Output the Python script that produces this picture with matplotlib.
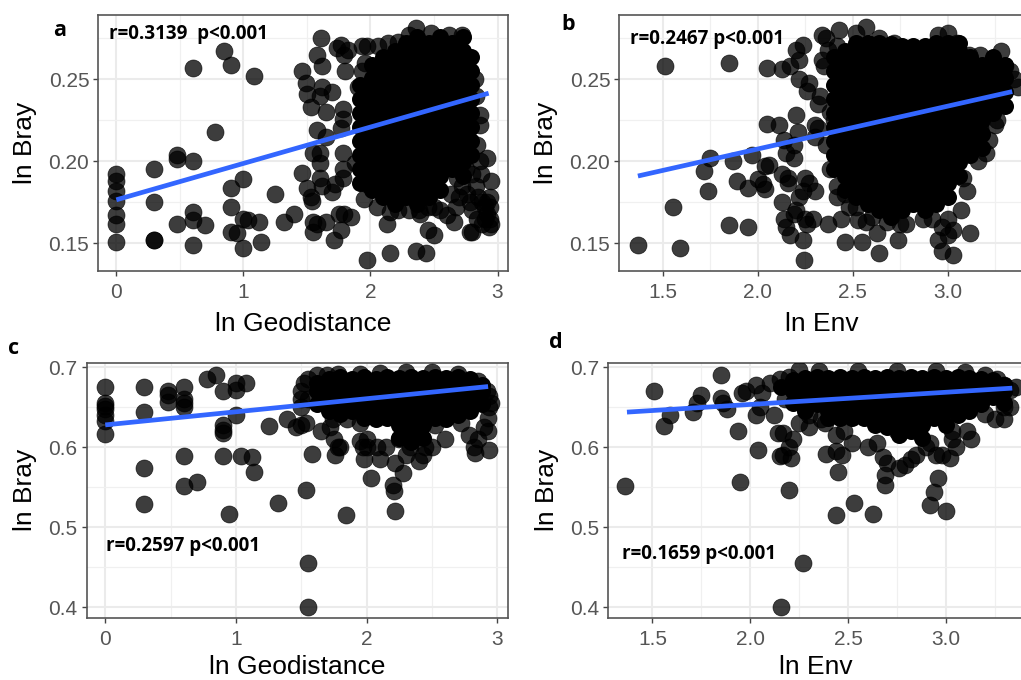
import matplotlib
matplotlib.use("Agg")
import matplotlib.pyplot as plt

# scattered points, drawn see-through
a_points = [(0, .192), (0, .188), (0, .182), (0, .176), (0, .167), (0, .162), (0, .151),
            (.30, .195), (.30, .175), (.30, .152), (.30, .152), (.48, .204), (.48, .2015), (.48, .162),
            (.60, .2), (.6, .257), (.6, .169), (.6, .164), (.6, .149), (.70, .161), (.78, .218),
            (.85, .267), (.90, .259), (.90, .184), (.90, .172), (.90, .157), (.95, .156), (1, .189),
            (1, .165), (1, .147), (1.04, .164), (1.08, .252), (1.12, .163), (1.14, .151), (1.25, .18),
            (1.32, .163), (1.40, .168), (1.46, .193), (1.46, .255), (1.49, .248), (1.5, .184), (1.5, .241),
            (1.53, .233), (1.53, .178), (1.54, .176), (1.55, .205), (1.55, .163), (1.55, .157), (1.58, .265),
            (1.58, .219), (1.58, .162), (1.6, .205), (1.61, .275), (1.6, .199), (1.6, .24), (1.6, .19),
            (1.62, .185), (1.62, .258), (1.62, .245), (1.65, .23), (1.65, .215), (1.65, .163), (1.7, .181),
            (1.7, .242), (1.71, .152), (1.72, .186), (1.74, .269), (1.75, .168), (1.77, .22), (1.77, .271),
            (1.77, .158), (1.78, .205), (1.78, .195), (1.78, .19), (1.78, .232), (1.78, .226), (1.79, .265),
            (1.79, .168), (1.8, .255), (1.82, .268), (1.85, .166), (1.88, .199), (1.9, .245), (1.93, .27),
            (1.93, .255), (1.97, .14), (2.15, .144), (2.36, .145), (2.44, .144), (2.45, .158), (2.5, .155),
            (2.39, .168), (2.13, .162), (2.8, .157), (2.82, .25), (2.83, .24), (2.86, .228), (2.86, .222),
            (2.84, .21), (2.86, .2), (2.92, .202), (2.87, .192), (2.95, .188), (2.85, .178), (2.76, .18),
            (2.78, .175), (2.8, .17), (2.88, .175), (2.92, .175), (2.94, .178), (2.94, .172), (2.92, .168),
            (2.9, .165), (2.94, .165), (2.93, .16), (2.88, .162), (2.95, .162), (2.78, .157), (2.66, .163),
            (2.6, .167), (2.55, .17), (2.5, .172), (2.45, .172), (2.38, .17), (2.3, .17), (2.22, .17),
            (2.15, .169), (2.05, .172), (1.95, .177), (1.97, .186), (1.96, .26), (1.97, .27),
            (2.06, .27), (2.14, .272), (2.22, .273), (2.3, .277), (2.36, .2815), (2.48, .278), (2.62, .277),
            (2.72, .277), (2.68, .19), (2.72, .185), (2.75, .195), (2.63, .18), (2.67, .172), (2.7, .178),
            (2.83, .185), (2.8, .192), (2.84, .165), (2.9, .172)]
b_points = [(1.37, .149), (1.51, .258), (1.555, .172), (1.59, .147), (1.72, .194), (1.74, .182), (1.75, .202),
            (1.85, .161), (1.85, .26), (1.87, .2), (1.89, .188), (1.95, .16), (1.95, .184), (1.97, .204),
            (2.0, .189), (2.03, .186), (2.04, .183), (2.04, .197), (2.06, .198), (2.05, .223), (2.05, .257),
            (2.13, .256), (2.11, .222), (2.17, .258), (2.14, .213), (2.13, .192), (2.16, .19), (2.16, .187),
            (2.15, .205), (2.13, .175), (2.19, .21), (2.19, .202), (2.2, .228), (2.21, .218), (2.2, .268),
            (2.22, .262), (2.22, .25), (2.24, .271), (2.25, .19), (2.27, .187), (2.24, .152), (2.245, .14),
            (2.27, .248), (2.26, .243), (2.3, .182), (2.14, .165), (2.15, .16), (2.17, .155), (2.19, .168),
            (2.2, .17), (2.22, .178), (2.24, .182), (2.25, .165), (2.26, .162), (2.29, .165), (2.37, .162),
            (2.42, .178), (2.44, .165), (2.46, .151), (2.48, .172), (2.53, .164), (2.55, .151), (2.57, .163),
            (2.63, .156), (2.64, .144), (2.74, .152), (2.75, .162), (2.78, .162), (2.87, .165), (2.92, .165),
            (2.95, .152), (2.97, .145), (3.03, .143), (3.0, .155), (3.03, .158), (3.12, .156), (3.07, .17),
            (3.1, .182), (3.0, .165), (2.97, .16), (2.3, .222), (2.32, .22), (2.32, .235), (2.33, .24),
            (2.38, .23), (2.4, .225), (2.3, .215), (2.35, .258), (2.42, .27), (2.36, .275), (2.34, .277),
            (2.43, .28), (2.57, .282), (2.52, .278), (2.64, .275), (2.72, .272), (2.95, .277), (3.0, .278),
            (3.05, .272), (3.11, .265), (3.17, .265), (3.28, .267), (3.3, .258), (3.33, .255), (3.35, .25),
            (3.37, .245), (3.29, .255), (3.24, .25), (3.25, .222), (3.26, .225), (3.22, .213), (3.2, .205),
            (3.16, .2), (3.22, .232), (3.27, .24), (3.17, .22), (2.36, .21), (2.38, .195), (2.42, .185),
            (2.46, .18), (2.52, .172), (2.6, .166), (2.68, .163), (3.08, .19), (2.34, .262), (2.37, .268)]
c_points = [(0, .676), (0, .655), (0, .652), (0, .648), (0, .64), (0, .633), (0, .617), (.3, .675), (.3, .644),
            (.3, .574), (.3, .529), (.48, .67), (.48, .665), (.48, .657), (.6, .675), (.6, .661), (.6, .655),
            (.6, .651), (.6, .589), (.6, .551), (.7, .556), (.78, .685), (.85, .69), (.9, .671), (.9, .628),
            (.9, .622), (.9, .618), (.9, .589), (.95, .517), (1, .68), (1, .672), (1, .64), (1.04, .589),
            (1.08, .681), (1.12, .588), (1.14, .569), (1.25, .627), (1.32, .53), (1.39, .636), (1.46, .625),
            (1.5, .628), (1.54, .63), (1.54, .546), (1.55, .455), (1.55, .4), (1.58, .591), (1.84, .515),
            (2.03, .561), (2.2, .553), (2.21, .545), (2.22, .52), (2.28, .568), (2.22, .58), (2.1, .585),
            (1.98, .585), (2.0, .6), (2.94, .664), (2.95, .655), (2.94, .65), (2.93, .637), (2.93, .62),
            (2.9, .625), (2.94, .597), (2.85, .61), (2.83, .593), (2.82, .6), (2.78, .615), (2.72, .63),
            (2.6, .61), (2.52, .628), (2.5, .6), (2.45, .6), (2.43, .59), (2.4, .583), (2.33, .6), (2.3, .59),
            (2.25, .61), (2.15, .6), (2.08, .6), (1.95, .608), (1.97, .6), (2.0, .61), (1.95, .63), (1.85, .635),
            (1.75, .61), (1.72, .625), (1.74, .635), (1.65, .62), (1.78, .6), (1.76, .59), (1.8, .6), (1.55, .66),
            (1.5, .66), (1.5, .65), (1.52, .68), (1.5, .67), (1.55, .685), (1.62, .69), (1.7, .69), (1.78, .692),
            (1.95, .692), (2.1, .693), (2.3, .694), (2.5, .694), (2.7, .692), (2.85, .683), (2.92, .67)]
d_points = [(1.36, .551), (1.51, .671), (1.56, .627), (1.59, .64), (1.71, .644), (1.73, .656), (1.75, .666),
            (1.85, .69), (1.85, .662), (1.86, .656), (1.88, .648), (1.94, .62), (1.95, .556), (1.96, .668),
            (1.98, .671), (2.03, .64), (2.04, .597), (2.05, .65), (2.03, .678), (2.06, .668), (2.12, .64),
            (2.15, .589), (2.17, .59), (2.14, .618), (2.17, .618), (2.2, .546), (2.21, .587), (2.2, .6),
            (2.22, .61), (2.16, .4), (2.27, .455), (2.25, .63), (2.3, .625), (2.38, .63), (2.39, .591),
            (2.45, .569), (2.44, .515), (2.44, .595), (2.47, .59), (2.44, .615), (2.48, .62), (2.53, .53),
            (2.52, .605), (2.6, .6), (2.63, .517), (2.65, .605), (2.68, .588), (2.7, .58), (2.69, .565),
            (2.69, .553), (2.76, .574), (2.79, .578), (2.82, .585), (2.85, .59), (2.92, .605), (2.95, .59),
            (2.94, .544), (2.92, .528), (2.96, .561), (3.0, .52), (2.98, .59), (3.02, .587), (3.05, .6),
            (3.03, .61), (3.03, .62), (3.11, .62), (3.13, .61), (2.75, .62), (2.9, .6), (3.3, .635),
            (3.25, .635), (3.2, .642), (3.3, .65), (3.33, .65), (3.33, .672), (3.3, .678), (3.36, .675),
            (3.2, .69), (3.26, .685), (2.1, .68), (2.15, .685), (2.2, .688), (2.25, .697), (2.18, .66),
            (2.35, .695), (2.55, .695), (2.75, .695), (2.95, .696), (3.1, .694), (2.3, .64), (2.36, .635)]

# dense middle of each cloud: x of a column, then the y values in that column
a_core_x = [1.92, 2.01, 2.10, 2.19, 2.28, 2.37, 2.46, 2.55, 2.64, 2.73, 2.79]
a_core_y = [[.2465, .238, .2295, .221, .2125, .204, .1955, .187],
            [.259, .2505, .242, .2335, .225, .2165, .208, .1995, .191, .1825],
            [.2635, .255, .2465, .238, .2295, .221, .2125, .204, .1955, .187, .1785],
            [.2675, .259, .2505, .242, .2335, .225, .2165, .208, .1995, .191, .1825, .174],
            [.272, .2635, .255, .2465, .238, .2295, .221, .2125, .204, .1955, .187, .1785],
            [.276, .2675, .259, .2505, .242, .2335, .225, .2165, .208, .1995, .191, .1825, .174],
            [.272, .2635, .255, .2465, .238, .2295, .221, .2125, .204, .1955, .187, .1785],
            [.276, .2675, .259, .2505, .242, .2335, .225, .2165, .208, .1995, .191, .1825],
            [.272, .2635, .255, .2465, .238, .2295, .221, .2125, .204, .1955],
            [.276, .2675, .259, .2505, .242, .2335, .225, .2165, .208, .1995, .191],
            [.2635, .255, .2465, .238, .2295, .221, .2125, .204]]
b_core_x = [2.40, 2.46, 2.52, 2.58, 2.64, 2.70, 2.76, 2.82, 2.88, 2.94, 3.00, 3.06, 3.12, 3.18, 3.24, 3.30]
b_core_y = [[.2635, .255, .2465, .238, .2295, .221, .2125, .204, .1955],
            [.2675, .259, .2505, .242, .2335, .225, .2165, .208, .1995, .191, .1825],
            [.272, .2635, .255, .2465, .238, .2295, .221, .2125, .204, .1955, .187, .1785],
            [.272, .2675, .259, .2505, .242, .2335, .225, .2165, .208, .1995, .191, .1825, .174],
            [.272, .2635, .255, .2465, .238, .2295, .221, .2125, .204, .1955, .187, .1785, .17],
            [.2715, .2675, .259, .2505, .242, .2335, .225, .2165, .208, .1995, .191, .1825, .174, .166],
            [.2705, .2635, .255, .2465, .238, .2295, .221, .2125, .204, .1955, .187, .1785, .17],
            [.2705, .2675, .259, .2505, .242, .2335, .225, .2165, .208, .1995, .191, .1825, .174],
            [.2705, .2635, .255, .2465, .238, .2295, .221, .2125, .204, .1955, .187, .1785, .17],
            [.272, .2675, .259, .2505, .242, .2335, .225, .2165, .208, .1995, .191, .1825, .174],
            [.272, .2635, .255, .2465, .238, .2295, .221, .2125, .204, .1955, .187, .1785],
            [.272, .2675, .259, .2505, .242, .2335, .225, .2165, .208, .1995, .191],
            [.2635, .255, .2465, .238, .2295, .221, .2125, .204],
            [.259, .2505, .242, .2335, .225, .2165, .208],
            [.2635, .255, .2465, .238, .2295],
            [.259, .2505, .242, .2335]]
c_core_x = [1.62, 1.71, 1.80, 1.89, 1.98, 2.07, 2.16, 2.25, 2.34, 2.43, 2.52, 2.61, 2.70, 2.79, 2.88]
c_core_y = [[.68, .671, .654],
            [.686, .6795, .6625, .6455],
            [.688, .671, .654, .642],
            [.686, .6795, .6625, .6455],
            [.688, .671, .654, .637],
            [.686, .6795, .6625, .6455, .635],
            [.688, .671, .654, .637],
            [.687, .6795, .6625, .6455, .6285, .6115],
            [.688, .671, .654, .637, .62, .606],
            [.687, .6795, .6625, .6455, .6285, .6115],
            [.688, .671, .654, .637],
            [.687, .6795, .6625, .6455, .635],
            [.688, .671, .654, .64],
            [.686, .6795, .6625, .6455],
            [.678, .671, .654]]
d_core_x = [2.16, 2.22, 2.28, 2.34, 2.40, 2.46, 2.52, 2.58, 2.64, 2.70, 2.76, 2.82, 2.88, 2.94, 3.00, 3.06, 3.12, 3.18, 3.24, 3.30]
d_core_y = [[.675],
            [.684, .671, .655],
            [.687, .6795, .6625, .645],
            [.688, .671, .654],
            [.687, .6795, .6625, .6455, .637],
            [.688, .671, .654, .637],
            [.687, .6795, .6625, .6455, .637],
            [.688, .671, .654, .637],
            [.687, .6795, .6625, .6455, .6285],
            [.688, .671, .654, .637, .625],
            [.687, .6795, .6625, .6455, .6285, .615],
            [.688, .671, .654, .637, .62],
            [.687, .6795, .6625, .6455, .6285, .6115],
            [.688, .671, .654, .637],
            [.687, .6795, .6625, .6455, .6285],
            [.688, .671, .654, .64],
            [.687, .6795, .6625, .6455],
            [.686, .671, .654],
            [.684, .6795, .6625],
            [.678, .671, .655]]

# fitted line ends
a_fit_x, a_fit_y = [0, 2.93], [.1765, .2415]
b_fit_x, b_fit_y = [1.37, 3.34], [.191, .2425]
c_fit_x, c_fit_y = [0, 2.93], [.628, .676]
d_fit_x, d_fit_y = [1.37, 3.34], [.644, .674]

geo_ticks = [0, 1, 2, 3]
geo_minor = [.5, 1.5, 2.5]
env_ticks = [1.5, 2.0, 2.5, 3.0]
env_minor = [1.75, 2.25, 2.75, 3.25]
top_ticks = [.15, .20, .25]
top_minor = [.175, .225, .275]
low_ticks = [.4, .5, .6, .7]
low_minor = [.45, .55, .65]

W, H = 1021, 680
AXIS_FONT = "Liberation Sans"
NOTE_FONT = "Open Sans"


def panel(box, xlim, ylim, points, core_x, core_y, fit_x, fit_y, xticks, xminor, yticks, yminor, yfmt, xlabel, xpad, note, note_xy):
    left, right, top, bottom = box
    ax = fig.add_axes([left / W, 1 - bottom / H, (right - left) / W, (bottom - top) / H])
    ax.set_xlim(xlim)
    ax.set_ylim(ylim)
    ax.set_axisbelow(True)

    ax.set_xticks(xticks)
    ax.set_xticks(xminor, minor=True)
    ax.set_yticks(yticks)
    ax.set_yticks(yminor, minor=True)
    ax.set_yticklabels([yfmt % t for t in yticks])
    if xticks == env_ticks:
        ax.set_xticklabels(["%.1f" % t for t in xticks])
    ax.grid(True, which="major", color="#ebebeb", linewidth=1.5)
    ax.grid(True, which="minor", color="#f0f0f0", linewidth=0.9)
    ax.tick_params(which="minor", length=0)
    ax.tick_params(which="major", length=3.5, width=1, color="#444444", labelcolor="#555555", labelsize=15)
    ax.tick_params(axis="x", pad=5)
    ax.tick_params(axis="y", pad=3)
    for t in ax.get_xticklabels() + ax.get_yticklabels():
        t.set_fontfamily(AXIS_FONT)

    # single points see-through; the middle of the cloud is solid black from overplotting
    ax.scatter([p[0] for p in points], [p[1] for p in points], s=150, color="black", alpha=0.76, linewidths=0.5, zorder=3)
    cx = [x for x, ys in zip(core_x, core_y) for y in ys]
    cy = [y for ys in core_y for y in ys]
    ax.scatter(cx, cy, s=150, color="black", linewidths=0, zorder=3)
    ax.plot(fit_x, fit_y, color="#3366ff", linewidth=3.4, solid_capstyle="butt", zorder=4)

    for s in ax.spines.values():
        s.set_color("#555555")
        s.set_linewidth(1.2)
    ax.set_xlabel(xlabel, fontsize=19, family=AXIS_FONT, labelpad=xpad)
    ax.set_ylabel("ln Bray", fontsize=19, family=AXIS_FONT, labelpad=8)
    fig.text(note_xy[0] / W, 1 - note_xy[1] / H, note, fontsize=13.5, fontweight="bold", family=NOTE_FONT, va="center", ha="left")


fig = plt.figure(figsize=(W / 100, H / 100), dpi=100)

panel((98.3, 507.7, 15, 271.3), (-.142, 3.08), (.1329, .2892), a_points, a_core_x, a_core_y, a_fit_x, a_fit_y,
      geo_ticks, geo_minor, top_ticks, top_minor, "%.2f", "ln Geodistance", 7, "r=0.3139  p<0.001", (109, 34))
panel((619.3, 1024, 15, 271.3), (1.272, 3.402), (.1329, .2892), b_points, b_core_x, b_core_y, b_fit_x, b_fit_y,
      env_ticks, env_minor, top_ticks, top_minor, "%.2f", "ln Env", 7, "r=0.2467 p<0.001", (630, 39))
panel((86.7, 507.7, 362.7, 618), (-.142, 3.08), (.3865, .7058), c_points, c_core_x, c_core_y, c_fit_x, c_fit_y,
      geo_ticks, geo_minor, low_ticks, low_minor, "%.1f", "ln Geodistance", 4.5, "r=0.2597 p<0.001", (106, 546))
panel((608, 1024, 362.7, 618), (1.273, 3.40), (.3865, .7058), d_points, d_core_x, d_core_y, d_fit_x, d_fit_y,
      env_ticks, env_minor, low_ticks, low_minor, "%.1f", "ln Env", 4.5, "r=0.1659 p<0.001", (622, 554))

for label, x, y in [("a", 53, 31), ("b", 561, 24), ("c", 8, 349), ("d", 549, 342)]:
    fig.text(x / W, 1 - y / H, label, fontsize=15.5, fontweight="bold", family=NOTE_FONT, va="center", ha="left")

fig.savefig("out.png", dpi=100, facecolor="white")
